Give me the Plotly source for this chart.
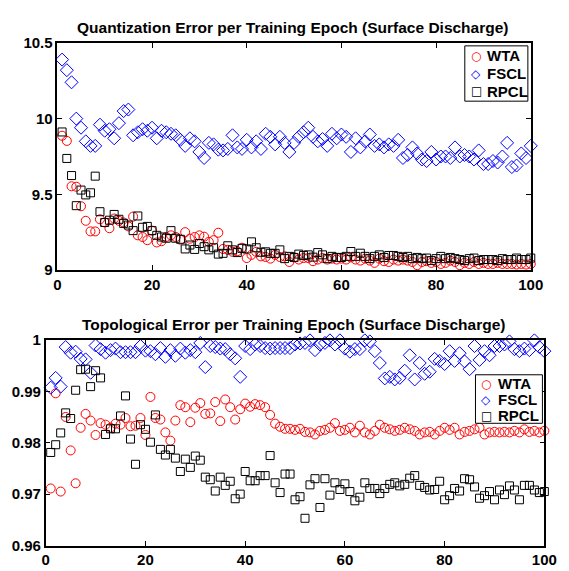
import plotly.graph_objects as go

epochs = list(range(1, 101))

# ---- Quantization error (top) ----
q_wta = [9.887, 9.853, 9.553, 9.55, 9.421, 9.325, 9.255, 9.255, 9.335, 9.314,
         9.276, 9.34, 9.325, 9.314, 9.288, 9.353, 9.229, 9.218, 9.197, 9.26,
         9.182, 9.19, 9.218, 9.229, 9.218, 9.20, 9.25, 9.207, 9.218, 9.229,
         9.22, 9.186, 9.197, 9.246, 9.139, 9.133, 9.12, 9.124, 9.147, 9.079,
         9.10, 9.12, 9.09, 9.086, 9.075, 9.10, 9.086, 9.09, 9.053, 9.083,
         9.069, 9.079, 9.079, 9.058, 9.069, 9.079, 9.069, 9.075, 9.069, 9.075,
         9.069, 9.083, 9.069, 9.062, 9.075, 9.062, 9.047, 9.075, 9.058, 9.053,
         9.069, 9.062, 9.069, 9.062, 9.053, 9.032, 9.053, 9.058, 9.047, 9.053,
         9.04, 9.047, 9.062, 9.053, 9.032, 9.047, 9.04, 9.053, 9.04, 9.047,
         9.04, 9.04, 9.047, 9.04, 9.04, 9.04, 9.036, 9.04, 9.036, 9.04]
q_fscl = [10.39, 10.32, 10.24, 10.00, 9.94, 9.85, 9.82, 9.82, 9.96, 9.92,
          9.93, 9.87, 9.97, 10.05, 10.06, 9.89, 9.91, 9.93, 9.92, 9.94,
          9.87, 9.92, 9.91, 9.90, 9.89, 9.86, 9.82, 9.87, 9.85, 9.78,
          9.74, 9.84, 9.83, 9.795, 9.79, 9.80, 9.89, 9.81, 9.80, 9.86,
          9.81, 9.85, 9.80, 9.90, 9.88, 9.83, 9.88, 9.84, 9.78, 9.84,
          9.88, 9.91, 9.94, 9.88, 9.85, 9.865, 9.82, 9.90, 9.87, 9.895,
          9.88, 9.78, 9.87, 9.81, 9.85, 9.895, 9.82, 9.83, 9.81, 9.83,
          9.82, 9.86, 9.74, 9.76, 9.81, 9.77, 9.73, 9.72, 9.78, 9.73,
          9.75, 9.75, 9.74, 9.81, 9.75, 9.76, 9.75, 9.73, 9.79, 9.70,
          9.70, 9.72, 9.71, 9.75, 9.84, 9.68, 9.69, 9.77, 9.74, 9.82]
q_rpcl = [9.912, 9.737, 9.624, 9.425, 9.528, 9.496, 9.51, 9.62, 9.385, 9.314,
          9.329, 9.367, 9.335, 9.308, 9.297, 9.26, 9.357, 9.282, 9.288, 9.26,
          9.229, 9.218, 9.21, 9.26, 9.21, 9.203, 9.139, 9.165, 9.136, 9.175,
          9.154, 9.133, 9.147, 9.105, 9.11, 9.16, 9.133, 9.115, 9.143, 9.139,
          9.186, 9.147, 9.117, 9.12, 9.11, 9.11, 9.133, 9.075, 9.09, 9.083,
          9.105, 9.096, 9.10, 9.085, 9.115, 9.10, 9.075, 9.09, 9.083, 9.083,
          9.09, 9.122, 9.09, 9.111, 9.09, 9.075, 9.09, 9.10, 9.083, 9.096,
          9.096, 9.09, 9.083, 9.09, 9.075, 9.083, 9.075, 9.079, 9.062, 9.075,
          9.09, 9.075, 9.083, 9.075, 9.069, 9.062, 9.075, 9.079, 9.062, 9.069,
          9.069, 9.069, 9.062, 9.075, 9.069, 9.069, 9.079, 9.069, 9.069, 9.079]

# ---- Topological error (bottom) ----
t_wta = [0.9711, 0.9896, 0.9705, 0.9850, 0.9785, 0.9721, 0.9829, 0.9856, 0.9843, 0.9815,
         0.9838, 0.9835, 0.9829, 0.9837, 0.9835, 0.9848, 0.9832, 0.9833, 0.9848, 0.9815,
         0.9889, 0.9848, 0.9845, 0.9820, 0.9804, 0.9843, 0.9873, 0.9869, 0.9840, 0.9868,
         0.9877, 0.9856, 0.9857, 0.9879, 0.9842, 0.9884, 0.9869, 0.9845, 0.9865, 0.9876,
         0.9870, 0.9875, 0.9873, 0.9869, 0.9854, 0.9837, 0.9831, 0.9827, 0.9827, 0.9825,
         0.9827, 0.9821, 0.9820, 0.9816, 0.9823, 0.9825, 0.9829, 0.9838, 0.9823, 0.9825,
         0.9829, 0.9820, 0.9833, 0.9820, 0.9816, 0.9823, 0.9835, 0.9829, 0.9826, 0.9823,
         0.9825, 0.9829, 0.9826, 0.9823, 0.9816, 0.9820, 0.9821, 0.9816, 0.9823, 0.9829,
         0.9825, 0.9829, 0.9816, 0.9821, 0.9823, 0.9826, 0.9829, 0.9816, 0.9820, 0.9821,
         0.9820, 0.9821, 0.9820, 0.9823, 0.9820, 0.9826, 0.9821, 0.9823, 0.9820, 0.9823]
t_fscl = [0.9907, 0.9926, 0.9909, 0.9986, 0.9975, 0.9977, 0.9963, 0.9962, 0.9936, 0.9989,
          0.9982, 0.9975, 0.9980, 0.9983, 0.9976, 0.9976, 0.9976, 0.9976, 0.9988, 0.9979,
          0.9978, 0.9972, 0.9984, 0.9967, 0.9980, 0.9969, 0.9983, 0.9975, 0.9980, 0.9976,
          0.9994, 0.9947, 0.9988, 0.9986, 0.9983, 0.9982, 0.9972, 0.9964, 0.9928, 0.9988,
          0.9982, 0.9991, 0.9988, 0.9984, 0.9983, 0.9984, 0.9984, 0.9984, 0.9984, 0.9991,
          0.9993, 0.9994, 0.9999, 0.9980, 0.9991, 0.9994, 0.9999, 0.9991, 0.9999, 0.9983,
          0.9977, 0.9982, 0.9982, 0.9999, 0.9997, 0.9978, 0.9955, 0.9925, 0.9928, 0.9923,
          0.9926, 0.9940, 0.9970, 0.9923, 0.9955, 0.9934, 0.9938, 0.9963, 0.9959, 0.9953,
          0.9978, 0.9959, 0.9974, 0.9958, 0.9943, 0.9988, 0.9961, 0.9978, 0.9970, 0.9988,
          0.9988, 0.9991, 0.9997, 0.9982, 0.9978, 0.9983, 0.9980, 0.9999, 0.9986, 0.9978]
t_rpcl = [0.9781, 0.9796, 0.9819, 0.9858, 0.9847, 0.9902, 0.9942, 0.9943, 0.9909, 0.9940,
          0.9926, 0.9816, 0.9827, 0.9827, 0.9852, 0.9891, 0.9807, 0.9758, 0.9835, 0.9826,
          0.9801, 0.9854, 0.9787, 0.9776, 0.9787, 0.9770, 0.9744, 0.9768, 0.9752, 0.9774,
          0.9766, 0.9733, 0.9728, 0.9706, 0.9733, 0.9717, 0.9725, 0.9691, 0.9700, 0.9744,
          0.9726, 0.9726, 0.9736, 0.9736, 0.9775, 0.9722, 0.9703, 0.9739, 0.9739, 0.9689,
          0.9695, 0.9653, 0.9718, 0.9730, 0.9674, 0.9730, 0.9698, 0.9722, 0.9709, 0.9720,
          0.9705, 0.9687, 0.9694, 0.9722, 0.9711, 0.9711, 0.9701, 0.9711, 0.9719, 0.9722,
          0.9716, 0.9719, 0.9731, 0.9736, 0.9717, 0.9713, 0.9708, 0.9709, 0.9725, 0.9689,
          0.9697, 0.9711, 0.9706, 0.9730, 0.9728, 0.9714, 0.9692, 0.9697, 0.9705, 0.9689,
          0.9708, 0.9699, 0.9716, 0.9708, 0.9689, 0.9717, 0.9717, 0.9708, 0.9703, 0.9705]

x_ticks = [0, 20, 40, 60, 80, 100]
top_y_ticks = [9, 9.5, 10, 10.5]
top_y_text = ["9", "9.5", "10", "10.5"]
bot_y_ticks = [0.96, 0.97, 0.98, 0.99, 1.0]
bot_y_text = ["0.96", "0.97", "0.98", "0.99", "1"]

series_names = ["WTA", "FSCL", "RPCL"]
series_colors = ["#ff0000", "#0000ff", "#000000"]
series_symbols = ["circle-open", "diamond-open", "square-open"]
series_sizes = [9, 10, 8]
legend_glyphs = ["\u25CB", "\u25C7", "\u25A1"]

W, H = 569, 571
FONT = "Liberation Sans, Arial, sans-serif"

fig = go.Figure()
for (xa, ya), data in [(("x", "y"), [q_wta, q_fscl, q_rpcl]),
                       (("x2", "y2"), [t_wta, t_fscl, t_rpcl])]:
    for name, ys, col, sym, sz in zip(series_names, data, series_colors,
                                       series_symbols, series_sizes):
        fig.add_trace(go.Scatter(
            x=epochs, y=ys, mode="markers", name=name, xaxis=xa, yaxis=ya,
            showlegend=False, cliponaxis=False,
            marker=dict(symbol=sym, size=sz, color=col,
                        line=dict(width=1, color=col))))

def px_x(a, b):
    return [a / W, b / W]

def px_y(top, bottom):
    return [(H - bottom) / H, (H - top) / H]

def fx(p):
    return p / W

def fy(p):
    return (H - p) / H

axis_common = dict(showgrid=False, zeroline=False, showline=True, linecolor="black",
                   linewidth=1.5, mirror="ticks", ticks="inside", ticklen=5,
                   tickcolor="black", tickwidth=1,
                   tickfont=dict(family=FONT, size=15, color="black", weight="bold"))

annotations = [
    dict(text="Quantization Error per Training Epoch (Surface Discharge)",
         x=fx(298), y=fy(19), xref="paper", yref="paper",
         xanchor="center", yanchor="middle", showarrow=False,
         font=dict(family=FONT, size=15.5, color="black", weight="bold")),
    dict(text="Topological Error per Training Epoch (Surface Discharge)",
         x=fx(298.5), y=fy(325), xref="paper", yref="paper",
         xanchor="center", yanchor="middle", showarrow=False,
         font=dict(family=FONT, size=15.5, color="black", weight="bold")),
]
shapes = []

# legend boxes: (left, top, right, bottom, symbol x, text x, row y centres)
legend_boxes = [
    (475, 38, 540, 95, 487, 496, [48, 66.5, 85]),
    (486, 377, 555, 427, 497, 507, [386, 402.5, 419]),
]
for (l, t, r, b, sx, tx, rows) in legend_boxes:
    shapes.append(dict(type="rect", xref="paper", yref="paper",
                       x0=fx(l), x1=fx(r), y0=fy(b), y1=fy(t),
                       line=dict(color="black", width=1), fillcolor="white",
                       layer="above"))
    for name, col, glyph, ry in zip(series_names, series_colors, legend_glyphs, rows):
        annotations.append(dict(text=glyph, x=fx(sx), y=fy(ry), xref="paper",
                                yref="paper", xanchor="center", yanchor="middle",
                                showarrow=False,
                                font=dict(family="DejaVu Sans", size=12, color=col)))
        annotations.append(dict(text=name, x=fx(tx), y=fy(ry), xref="paper",
                                yref="paper", xanchor="left", yanchor="middle",
                                showarrow=False,
                                font=dict(family=FONT, size=15, color="black",
                                          weight="bold")))

fig.update_layout(
    width=W, height=H,
    margin=dict(l=0, r=0, t=0, b=0),
    paper_bgcolor="white", plot_bgcolor="white",
    showlegend=False,
    xaxis=dict(domain=px_x(55, 543), range=[0, 100], tickvals=x_ticks,
               anchor="y", **axis_common),
    yaxis=dict(domain=px_y(35, 269), range=[9, 10.5], tickvals=top_y_ticks,
               ticktext=top_y_text, anchor="x", **axis_common),
    xaxis2=dict(domain=px_x(43, 557), range=[0, 100], tickvals=x_ticks,
                anchor="y2", **axis_common),
    yaxis2=dict(domain=px_y(341, 553), range=[0.96, 1.0], tickvals=bot_y_ticks,
                ticktext=bot_y_text, anchor="x2", **axis_common),
    annotations=annotations,
    shapes=shapes,
)

fig.write_html("out.html")
